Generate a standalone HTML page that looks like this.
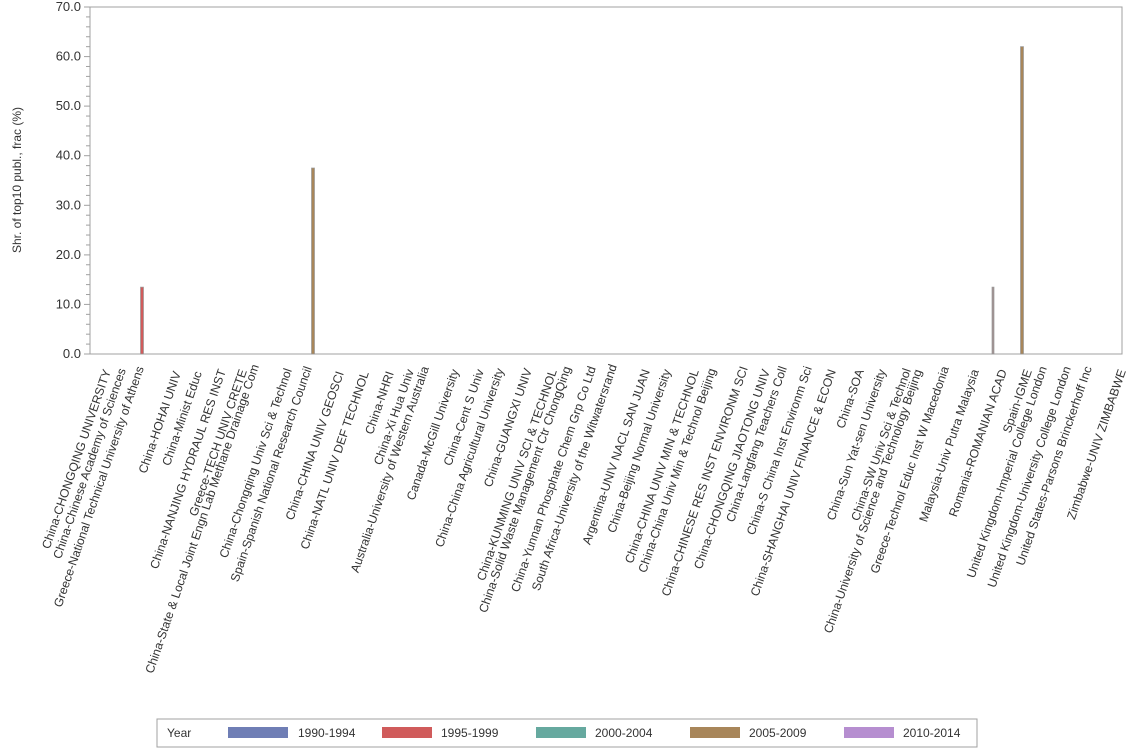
<!DOCTYPE html>
<html><head><meta charset="utf-8"><style>body{margin:0;background:#fff}svg{display:block;font-family:"Liberation Sans",Arial,sans-serif}</style></head><body>
<svg width="1134" height="756" xmlns="http://www.w3.org/2000/svg">
<defs>
<g id="mt" stroke="#a0a0a0"><line x1="86" y1="-9.91" x2="90" y2="-9.91"/><line x1="86" y1="-19.83" x2="90" y2="-19.83"/><line x1="86" y1="-29.74" x2="90" y2="-29.74"/><line x1="86" y1="-39.66" x2="90" y2="-39.66"/></g>
</defs>
<rect x="90" y="7" width="1032" height="347" fill="#fff" stroke="#a0a0a0"/>
<g stroke="#a0a0a0">
<line x1="84" y1="354" x2="90" y2="354"/><line x1="84" y1="304.4" x2="90" y2="304.4"/><line x1="84" y1="254.9" x2="90" y2="254.9"/><line x1="84" y1="205.3" x2="90" y2="205.3"/><line x1="84" y1="155.7" x2="90" y2="155.7"/><line x1="84" y1="106.1" x2="90" y2="106.1"/><line x1="84" y1="56.6" x2="90" y2="56.6"/><line x1="84" y1="7" x2="90" y2="7"/>
</g>
<use href="#mt" y="354"/><use href="#mt" y="304.43"/><use href="#mt" y="254.86"/><use href="#mt" y="205.29"/><use href="#mt" y="155.71"/><use href="#mt" y="106.14"/><use href="#mt" y="56.57"/>
<g font-size="13" fill="#333" text-anchor="end">
<text x="81" y="358">0.0</text><text x="81" y="308.4">10.0</text><text x="81" y="258.9">20.0</text><text x="81" y="209.3">30.0</text><text x="81" y="159.7">40.0</text><text x="81" y="110.1">50.0</text><text x="81" y="60.6">60.0</text><text x="81" y="11">70.0</text>
</g>
<text transform="translate(21,180) rotate(-90)" font-size="12" fill="#333" text-anchor="middle">Shr. of top10 publ., frac (%)</text>
<rect x="140.5" y="287.1" width="3" height="66.9" fill="#d05b5b" stroke="#999" stroke-width="0.7"/>
<rect x="311.5" y="168" width="3" height="186" fill="#a8865a" stroke="#999" stroke-width="0.7"/>
<rect x="992" y="287.1" width="2" height="66.9" fill="#a09090" stroke="#999" stroke-width="0.7"/>
<rect x="1020.5" y="46.6" width="3" height="307.4" fill="#a8865a" stroke="#999" stroke-width="0.7"/>
<g font-size="12.2" fill="#333" text-anchor="end">
<text transform="translate(111,371) rotate(-71)">China-CHONGQING UNIVERSITY</text>
<text transform="translate(126,370) rotate(-71)">China-Chinese Academy of Sciences</text>
<text transform="translate(144,368) rotate(-71)">Greece-National Technical University of Athens</text>
<text transform="translate(181,373) rotate(-71)">China-HOHAI UNIV</text>
<text transform="translate(202,373) rotate(-71)">China-Minist Educ</text>
<text transform="translate(226,371) rotate(-71)">China-NANJING HYDRAUL RES INST</text>
<text transform="translate(247,371) rotate(-71)">Greece-TECH UNIV CRETE</text>
<text transform="translate(259,366) rotate(-71)">China-State &amp; Local Joint Engn Lab Methane Drainage Com</text>
<text transform="translate(292,370) rotate(-71)">China-Chongqing Univ Sci &amp; Technol</text>
<text transform="translate(312,368) rotate(-71)">Spain-Spanish National Research Council</text>
<text transform="translate(344,373) rotate(-71)">China-CHINA UNIV GEOSCI</text>
<text transform="translate(369,373) rotate(-71)">China-NATL UNIV DEF TECHNOL</text>
<text transform="translate(394,373) rotate(-71)">China-NHRI</text>
<text transform="translate(414,371) rotate(-71)">China-Xi Hua Univ</text>
<text transform="translate(429,368) rotate(-71)">Australia-University of Western Australia</text>
<text transform="translate(459,371) rotate(-71)">Canada-McGill University</text>
<text transform="translate(484,371) rotate(-71)">China-Cent S Univ</text>
<text transform="translate(504,370) rotate(-71)">China-China Agricultural University</text>
<text transform="translate(532,370) rotate(-71)">China-GUANGXI UNIV</text>
<text transform="translate(557,371) rotate(-71)">China-KUNMING UNIV SCI &amp; TECHNOL</text>
<text transform="translate(571,368) rotate(-71)">China-Solid Waste Management Ctr ChongQing</text>
<text transform="translate(596,368) rotate(-71)">China-Yunnan Phosphate Chem Grp Co Ltd</text>
<text transform="translate(617,366) rotate(-71)">South Africa-University of the Witwatersrand</text>
<text transform="translate(650,371) rotate(-71)">Argentina-UNIV NACL SAN JUAN</text>
<text transform="translate(671,371) rotate(-71)">China-Beijing Normal University</text>
<text transform="translate(699,371) rotate(-71)">China-CHINA UNIV MIN &amp; TECHNOL</text>
<text transform="translate(716,370) rotate(-71)">China-China Univ Min &amp; Technol Beijing</text>
<text transform="translate(748,368) rotate(-71)">China-CHINESE RES INST ENVIRONM SCI</text>
<text transform="translate(770,371) rotate(-71)">China-CHONGQING JIAOTONG UNIV</text>
<text transform="translate(787,368) rotate(-71)">China-Langfang Teachers Coll</text>
<text transform="translate(812,368) rotate(-71)">China-S China Inst Environm Sci</text>
<text transform="translate(836,371) rotate(-71)">China-SHANGHAI UNIV FINANCE &amp; ECON</text>
<text transform="translate(864,371) rotate(-71)">China-SOA</text>
<text transform="translate(886,371) rotate(-71)">China-Sun Yat-sen University</text>
<text transform="translate(911,370) rotate(-71)">China-SW Univ Sci &amp; Technol</text>
<text transform="translate(922,371) rotate(-71)">China-University of Science and Technology Beijing</text>
<text transform="translate(949,368) rotate(-71)">Greece-Technol Educ Inst W Macedonia</text>
<text transform="translate(979,371) rotate(-71)">Malaysia-Univ Putra Malaysia</text>
<text transform="translate(1007,371) rotate(-71)">Romania-ROMANIAN ACAD</text>
<text transform="translate(1032,371) rotate(-71)">Spain-IGME</text>
<text transform="translate(1047,368) rotate(-71)">United Kingdom-Imperial College London</text>
<text transform="translate(1071,368) rotate(-71)">United Kingdom-University College London</text>
<text transform="translate(1092,368) rotate(-71)">United States-Parsons Brinckerhoff Inc</text>
<text transform="translate(1126,371) rotate(-71)">Zimbabwe-UNIV ZIMBABWE</text>
</g>
<rect x="157" y="719" width="820" height="28" fill="#fff" stroke="#a0a0a0"/>
<g font-size="12" fill="#333">
<text x="167" y="737">Year</text>
<rect x="228" y="727" width="60" height="11" fill="#6f7eb5"/><text x="298" y="737">1990-1994</text>
<rect x="382" y="727" width="50" height="11" fill="#d05b5b"/><text x="441" y="737">1995-1999</text>
<rect x="536" y="727" width="50" height="11" fill="#66a99f"/><text x="595" y="737">2000-2004</text>
<rect x="690" y="727" width="50" height="11" fill="#a8865a"/><text x="749" y="737">2005-2009</text>
<rect x="844" y="727" width="50" height="11" fill="#b68ed0"/><text x="903" y="737">2010-2014</text>
</g>
</svg>
</body></html>
